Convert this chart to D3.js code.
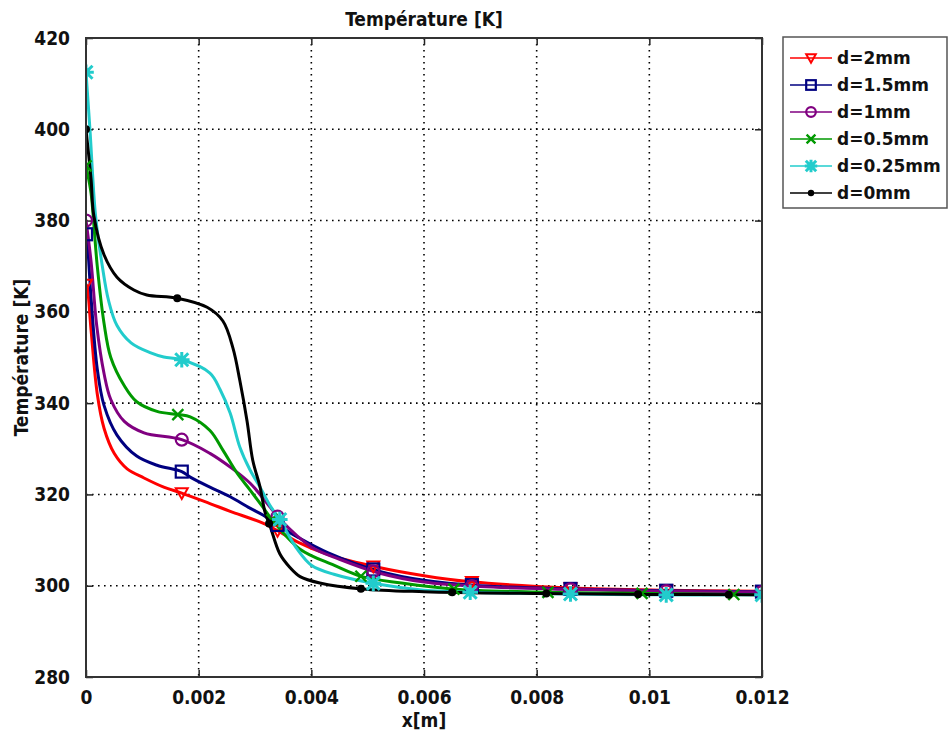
<!DOCTYPE html>
<html><head><meta charset="utf-8">
<script src="https://cdn.jsdelivr.net/npm/d3@7"></script>
<style>body{margin:0;background:#fff}</style>
</head><body>
<svg id="c" width="950" height="735"></svg>
<script>
// ---------------- data ----------------
const seriesNames = ["d=2mm", "d=1.5mm", "d=1mm", "d=0.5mm", "d=0.25mm", "d=0mm"];
const xTicks = [0, 0.002, 0.004, 0.006, 0.008, 0.01, 0.012];
const yTicks = [280, 300, 320, 340, 360, 380, 400, 420];

const xRed = [0, 0.00002, 0.00009, 0.0002, 0.00032, 0.0005, 0.00073, 0.00103, 0.00138, 0.0017, 0.0022, 0.00256, 0.00314, 0.00344, 0.00375, 0.0043, 0.0052, 0.0060, 0.0068, 0.0086, 0.0103, 0.012];
const tRed = [366, 365.5, 356, 342, 334.5, 329, 325.6, 323.6, 321.6, 320.3, 318, 316.3, 313.7, 311.8, 309.6, 306.8, 304, 302.2, 300.9, 299.5, 299, 298.8];

const xBlue = [0, 0.00002, 0.00009, 0.0002, 0.00032, 0.00055, 0.0009, 0.00126, 0.0017, 0.00185, 0.0022, 0.00256, 0.00291, 0.00314, 0.00344, 0.00375, 0.0043, 0.0052, 0.006, 0.007, 0.0086, 0.0103, 0.012];
const tBlue = [377, 375.7, 363, 347.5, 339.5, 333, 328.4, 326.4, 325, 323.8, 321.6, 319.5, 317, 315.5, 313, 310.7, 307.2, 303.2, 301.2, 300, 299.3, 298.9, 298.7];

const xPurple = [0, 0.00009, 0.00019, 0.00032, 0.00044, 0.00068, 0.00103, 0.0017, 0.0022, 0.00256, 0.00291, 0.00327, 0.00344, 0.004, 0.0045, 0.0052, 0.006, 0.007, 0.0086, 0.0103, 0.012];
const tPurple = [380, 371, 357, 346.5, 340.8, 336, 333.5, 332, 329, 326, 322.5, 317.2, 314.6, 308.5, 305.8, 302.8, 300.8, 299.8, 299.2, 298.8, 298.6];

const xGreen = [0, 0.00009, 0.00014, 0.0002, 0.00032, 0.00044, 0.00068, 0.0009, 0.00126, 0.00163, 0.00185, 0.0022, 0.00243, 0.00268, 0.00291, 0.00314, 0.0033, 0.0038, 0.0044, 0.0049, 0.0056, 0.0065, 0.008, 0.01, 0.012];
const tGreen = [392, 386, 379, 370, 357.5, 350, 343.8, 340.3, 338.2, 337.5, 337, 334, 329.7, 324.7, 321, 317.2, 314.5, 308, 304.5, 302, 300.6, 299.3, 298.6, 298.3, 298];

const xCyan = [0, 0.00007, 0.00017, 0.00029, 0.0004, 0.00055, 0.0008, 0.00115, 0.00138, 0.0017, 0.0022, 0.00238, 0.00256, 0.00273, 0.00291, 0.00309, 0.00327, 0.00344, 0.0036, 0.00375, 0.004, 0.0044, 0.0052, 0.006, 0.007, 0.008, 0.01, 0.012];
const tCyan = [412.5, 400, 381, 370, 362.5, 357, 353.2, 351, 350.1, 349.5, 346.6, 343, 337.8, 330.4, 325.4, 321.6, 317.5, 314.5, 311, 308, 304.5, 302.5, 300.3, 299, 298.5, 298.3, 298, 298];

const xBlack = [0, 0.00009, 0.00014, 0.00032, 0.00055, 0.00085, 0.00108, 0.00162, 0.00215, 0.00243, 0.00261, 0.00273, 0.00286, 0.00296, 0.00309, 0.00318, 0.00327, 0.00344, 0.00362, 0.0038, 0.00415, 0.0049, 0.006, 0.008, 0.01, 0.012];
const tBlack = [400, 389, 381, 372.5, 367.6, 364.8, 363.7, 363, 361, 358, 352, 345, 336, 327.5, 321.6, 316, 313, 307, 304, 302, 300.6, 299.3, 298.7, 298.3, 298.1, 298];

// marker abscissae (every n-th mesh point of the original solution)
const mRed    = [0, 0.0017, 0.0034, 0.0051, 0.00685, 0.0086, 0.0103, 0.012];
const mBlue   = [0, 0.0017, 0.0034, 0.0051, 0.00685, 0.0086, 0.0103, 0.012];
const mPurple = [0, 0.0017, 0.0034, 0.0051, 0.00685, 0.0086, 0.0103, 0.012];
const mGreen  = [0, 0.00163, 0.0033, 0.00488, 0.00653, 0.0082, 0.00987, 0.0115];
const mCyan   = [0, 0.0017, 0.00344, 0.0051, 0.00682, 0.0086, 0.0103, 0.012];
const mBlack  = [0, 0.00162, 0.00325, 0.00488, 0.0065, 0.00817, 0.0098, 0.01141];

// ---------------- chart ----------------
const colors = ["#ff0000", "#000080", "#800080", "#009900", "#22cccc", "#000000"];
const shapes = ["tri", "square", "circle", "x", "star", "dot"];
const series = [
  {x: xRed, t: tRed, m: mRed},
  {x: xBlue, t: tBlue, m: mBlue},
  {x: xPurple, t: tPurple, m: mPurple},
  {x: xGreen, t: tGreen, m: mGreen},
  {x: xCyan, t: tCyan, m: mCyan},
  {x: xBlack, t: tBlack, m: mBlack}
].map((s, i) => ({...s, name: seriesNames[i], color: colors[i], shape: shapes[i]}));

const L = 86, R = 762, T = 38, B = 677;
const svg = d3.select("#c");
const x = d3.scaleLinear().domain([0, 0.012]).range([L, R]);
const y = d3.scaleLinear().domain([280, 420]).range([B, T]);
const fmt = d => String(+d.toFixed(3));
const tickFont = "'DejaVu Sans Condensed', 'DejaVu Sans', sans-serif";

svg.append("defs").append("clipPath").attr("id", "clip")
  .append("rect").attr("x", L).attr("y", T).attr("width", R - L).attr("height", B - T);

// grid
const grid = svg.append("g");
grid.selectAll("line.gx").data(xTicks.slice(1, -1)).join("line")
  .attr("x1", d => x(d)).attr("x2", d => x(d)).attr("y1", T).attr("y2", B)
  .attr("stroke", "#000").attr("stroke-width", 1.6).attr("stroke-dasharray", "1.6,4.4");
grid.selectAll("line.gy").data(yTicks.slice(1, -1)).join("line")
  .attr("x1", L).attr("x2", R).attr("y1", d => y(d)).attr("y2", d => y(d))
  .attr("stroke", "#000").attr("stroke-width", 1.6).attr("stroke-dasharray", "1.6,4.4");

// axes with inner ticks
const axB = svg.append("g").attr("transform", `translate(0,${B})`)
  .call(d3.axisBottom(x).tickValues(xTicks).tickFormat(fmt).tickSizeInner(-7).tickSizeOuter(0).tickPadding(14));
const axL = svg.append("g").attr("transform", `translate(${L},0)`)
  .call(d3.axisLeft(y).tickValues(yTicks).tickFormat(d => d).tickSizeInner(-7).tickSizeOuter(0).tickPadding(16));
const axT = svg.append("g").attr("transform", `translate(0,${T})`)
  .call(d3.axisTop(x).tickValues(xTicks).tickFormat("").tickSizeInner(-7).tickSizeOuter(0));
const axR = svg.append("g").attr("transform", `translate(${R},0)`)
  .call(d3.axisRight(y).tickValues(yTicks).tickFormat("").tickSizeInner(-7).tickSizeOuter(0));
[axB, axL, axT, axR].forEach(a => {
  a.select(".domain").remove();
  a.selectAll(".tick line").attr("stroke", "#222").attr("stroke-width", 1.5);
  a.selectAll(".tick text").attr("font-family", tickFont).attr("font-size", 19)
    .attr("font-weight", "bold").attr("fill", "#111");
});

// curves
const line = d3.line().x(d => x(d[0])).y(d => y(d[1])).curve(d3.curveCatmullRom.alpha(0.5));
const plot = svg.append("g").attr("clip-path", "url(#clip)");
series.forEach(s => {
  const pts = s.x.map((v, i) => [v, s.t[i]]);
  s.path = plot.append("path").datum(pts).attr("d", line)
    .attr("fill", "none").attr("stroke", s.color).attr("stroke-width", 3)
    .attr("stroke-linejoin", "round");
});

function symbol(g, shape, color, cx, cy, big) {
  const k = big ? 1 : 0.8;
  if (shape === "tri") {
    const h = 6 * k;
    g.append("path").attr("d", `M${cx - h},${cy - h * 0.8}L${cx + h},${cy - h * 0.8}L${cx},${cy + h}Z`)
      .attr("fill", "none").attr("stroke", color).attr("stroke-width", 2);
  } else if (shape === "square") {
    const h = 6 * k;
    g.append("rect").attr("x", cx - h).attr("y", cy - h).attr("width", 2 * h).attr("height", 2 * h)
      .attr("fill", "none").attr("stroke", color).attr("stroke-width", 2.2);
  } else if (shape === "circle") {
    g.append("circle").attr("cx", cx).attr("cy", cy).attr("r", 6 * k)
      .attr("fill", "none").attr("stroke", color).attr("stroke-width", 2.2);
  } else if (shape === "x") {
    const h = 5.5 * k;
    g.append("path").attr("d", `M${cx - h},${cy - h}L${cx + h},${cy + h}M${cx - h},${cy + h}L${cx + h},${cy - h}`)
      .attr("stroke", color).attr("stroke-width", 2.4);
  } else if (shape === "star") {
    const h = 6.5 * k;
    g.append("path").attr("d", `M${cx - h},${cy - h}L${cx + h},${cy + h}M${cx - h},${cy + h}L${cx + h},${cy - h}M${cx},${cy - h * 1.2}L${cx},${cy + h * 1.2}M${cx - h * 1.2},${cy}L${cx + h * 1.2},${cy}`)
      .attr("stroke", color).attr("stroke-width", 3);
    g.append("rect").attr("x", cx - h * 0.6).attr("y", cy - h * 0.6).attr("width", h * 1.2).attr("height", h * 1.2)
      .attr("fill", color);
  } else {
    g.append("circle").attr("cx", cx).attr("cy", cy).attr("r", 4 * k).attr("fill", color);
  }
}

// markers: placed on the drawn curve at the given abscissae
series.forEach(s => {
  const node = s.path.node();
  const len = node.getTotalLength();
  const g = plot.append("g");
  s.m.forEach(mx => {
    const px = x(mx);
    let lo = 0, hi = len;
    for (let k = 0; k < 40; k++) {
      const mid = (lo + hi) / 2;
      if (node.getPointAtLength(mid).x < px) lo = mid; else hi = mid;
    }
    const p = node.getPointAtLength((lo + hi) / 2);
    symbol(g, s.shape, s.color, p.x, p.y, true);
  });
});

// frame
svg.append("rect").attr("x", L).attr("y", T).attr("width", R - L).attr("height", B - T)
  .attr("fill", "none").attr("stroke", "#333").attr("stroke-width", 2);

// titles
svg.append("text").attr("x", (L + R) / 2).attr("y", 26).attr("text-anchor", "middle")
  .attr("font-family", tickFont).attr("font-weight", "bold").attr("font-size", 19).attr("fill", "#111")
  .text("Température [K]");
svg.append("text").attr("x", (L + R) / 2).attr("y", 727).attr("text-anchor", "middle")
  .attr("font-family", tickFont).attr("font-weight", "bold").attr("font-size", 19).attr("fill", "#111")
  .text("x[m]");
svg.append("text").attr("transform", `translate(28,${(T + B) / 2}) rotate(-90)`).attr("text-anchor", "middle")
  .attr("font-family", tickFont).attr("font-weight", "bold").attr("font-size", 19).attr("fill", "#111")
  .text("Température [K]");

// legend
const lg = svg.append("g");
lg.append("rect").attr("x", 783).attr("y", 37).attr("width", 164).attr("height", 171)
  .attr("fill", "#fff").attr("stroke", "#555").attr("stroke-width", 1.5);
series.forEach((s, i) => {
  const ly = 58 + i * 27;
  lg.append("line").attr("x1", 790).attr("x2", 832).attr("y1", ly).attr("y2", ly)
    .attr("stroke", s.color).attr("stroke-width", 1.6);
  symbol(lg, s.shape, s.color, 811, ly, false);
  lg.append("text").attr("x", 837).attr("y", ly + 6)
    .attr("font-family", "'DejaVu Sans', Verdana, sans-serif").attr("font-weight", "bold")
    .attr("font-size", 17).attr("fill", "#111").text(s.name);
});
</script>
</body></html>
